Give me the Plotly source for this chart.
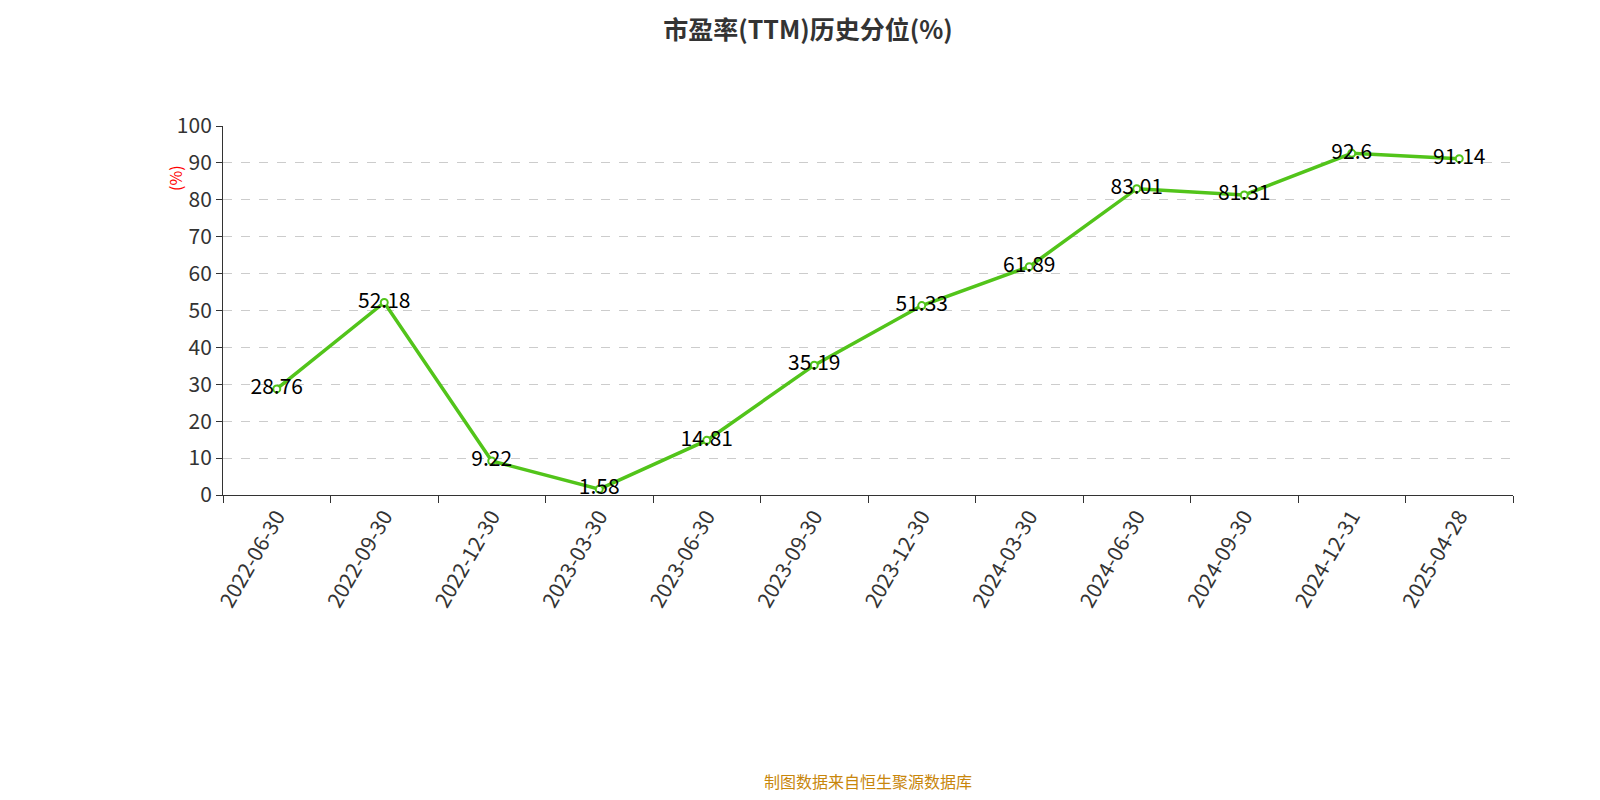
import plotly.graph_objects as go

dates = ["2022-06-30","2022-09-30","2022-12-30","2023-03-30","2023-06-30","2023-09-30",
         "2023-12-30","2024-03-30","2024-06-30","2024-09-30","2024-12-31","2025-04-28"]
values = [28.76,52.18,9.22,1.58,14.81,35.19,51.33,61.89,83.01,81.31,92.6,91.14]
labels = ["28.76","52.18","9.22","1.58","14.81","35.19","51.33","61.89","83.01","81.31","92.6","91.14"]

fig = go.Figure(go.Scatter(
    x=dates, y=values, mode="lines+markers+text", text=labels,
    textposition="middle center", textfont=dict(size=21, color="#000", family="Noto Sans CJK SC"),
    line=dict(color="#52c41a", width=3.5),
    marker=dict(symbol="circle", size=7, color="white", line=dict(color="#52c41a", width=2)),
    cliponaxis=False))

fig.update_layout(
    width=1600, height=800, plot_bgcolor="white", paper_bgcolor="white",
    margin=dict(l=215, r=95, t=118, b=313), showlegend=False,
    font=dict(family="Noto Sans CJK SC", color="#333"),
    title=dict(text="<b>市盈率(TTM)历史分位(%)</b>", x=0.5, xanchor="center", y=0.972,
               yanchor="middle", yref="container", font=dict(size=25, color="#333")),
    xaxis=dict(type="category", tickson="boundaries", ticks="outside", ticklen=7,
               range=[-0.5, 11.5], automargin=False,
               tickcolor="#333", linecolor="#333", showline=True, showgrid=False,
               tickangle=-60, tickfont=dict(size=21, color="#333")),
    yaxis=dict(range=[0, 100], dtick=10, showline=True, linecolor="#333", ticks="outside",
               ticklen=6, tickcolor="#333", gridcolor="#ccc", griddash="dash", automargin=False,
               zeroline=False, tickfont=dict(size=21, color="#333")),
    annotations=[
        dict(text="(%)", x=-0.048, y=0.9, xref="paper", yref="paper", textangle=-90,
             showarrow=False, font=dict(size=16, color="red")),
        dict(text="制图数据来自恒生聚源数据库", x=0.5, y=-0.775, xref="paper", yref="paper",
             yanchor="middle", showarrow=False, font=dict(size=16, color="#c8860b")),
    ])
fig.write_html("out.html")
